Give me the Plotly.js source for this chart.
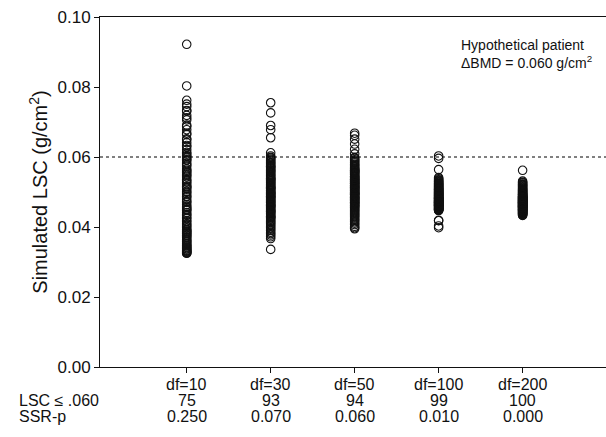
<!DOCTYPE html>
<html>
<head>
<meta charset="utf-8">
<script src="https://cdn.plot.ly/plotly-3.0.1.min.js"></script>
<style>html,body{margin:0;padding:0;background:#fff;}#chart{width:606px;height:437px;}</style>
</head>
<body>
<div id="chart"></div>
<script>
// Categories (x positions 1..5)
const categories = ["df=10", "df=30", "df=50", "df=100", "df=200"];
const lscRow = ["75", "93", "94", "99", "100"];
const ssrRow = ["0.250", "0.070", "0.060", "0.010", "0.000"];
const rowLabels = ["LSC \u2264 .060", "SSR-p"];
const thresholdLSC = 0.060;
const yTickVals = [0.00, 0.02, 0.04, 0.06, 0.08, 0.10];

// Simulated LSC values (g/cm2)
const lsc_df10 = [
  0.0922, 0.0803, 0.0762, 0.0751, 0.0744, 0.0733, 0.0731, 0.0719, 0.0712, 0.0706,
  0.0691, 0.0687, 0.0678, 0.0668, 0.0664, 0.0652, 0.0649, 0.0641, 0.0633, 0.0629,
  0.0621, 0.0613, 0.0609, 0.0604, 0.0601,
  0.0597, 0.0592, 0.0591, 0.0583, 0.0578, 0.0574, 0.0566, 0.0562, 0.0559, 0.0551,
  0.0547, 0.0543, 0.0536, 0.0532, 0.0528, 0.0523, 0.0517, 0.0515, 0.0508, 0.0502,
  0.0499, 0.0494, 0.0488, 0.0486, 0.0479, 0.0473, 0.0471, 0.0464, 0.0459, 0.0456,
  0.0449, 0.0447, 0.0441, 0.0436, 0.0433, 0.0427, 0.0424, 0.0418, 0.0415, 0.0409,
  0.0406, 0.0402, 0.0398, 0.0393, 0.0391, 0.0386, 0.0383, 0.0381, 0.0376, 0.0372,
  0.0369, 0.0365, 0.0362, 0.0359, 0.0357, 0.0353, 0.0351, 0.0347, 0.0346, 0.0343,
  0.0341, 0.0338, 0.0337, 0.0334, 0.0332, 0.0331, 0.0329, 0.0327, 0.0326, 0.0325,
  0.0377, 0.0452, 0.0512, 0.0555, 0.0388
];
const lsc_df30 = [
  0.0755, 0.0726, 0.0690, 0.0678, 0.0655, 0.0612, 0.0603,
  0.0599, 0.0597, 0.0594, 0.0591, 0.0588, 0.0584, 0.0582, 0.0579, 0.0575, 0.0572,
  0.0569, 0.0566, 0.0563, 0.0561, 0.0558, 0.0556, 0.0552, 0.0549, 0.0547, 0.0544,
  0.0541, 0.0538, 0.0536, 0.0533, 0.0531, 0.0528, 0.0526, 0.0523, 0.0521, 0.0518,
  0.0516, 0.0513, 0.0511, 0.0509, 0.0506, 0.0504, 0.0502, 0.0499, 0.0497, 0.0495,
  0.0493, 0.0491, 0.0488, 0.0486, 0.0484, 0.0482, 0.0479, 0.0477, 0.0475, 0.0473,
  0.0471, 0.0469, 0.0466, 0.0464, 0.0462, 0.0459, 0.0457, 0.0455, 0.0452, 0.0449,
  0.0447, 0.0445, 0.0442, 0.0439, 0.0437, 0.0434, 0.0431, 0.0428, 0.0426, 0.0423,
  0.0419, 0.0416, 0.0413, 0.0409, 0.0406, 0.0402, 0.0398, 0.0394, 0.0390, 0.0385,
  0.0381, 0.0377, 0.0372, 0.0367, 0.0336, 0.0538, 0.0487, 0.0461, 0.0512, 0.0444,
  0.0573, 0.0497, 0.0429
];
const lsc_df50 = [
  0.0668, 0.0662, 0.0651, 0.0637, 0.0622, 0.0609,
  0.0599, 0.0596, 0.0592, 0.0589, 0.0586, 0.0583, 0.0579, 0.0577, 0.0574, 0.0571,
  0.0568, 0.0566, 0.0563, 0.0561, 0.0558, 0.0556, 0.0553, 0.0551, 0.0549, 0.0546,
  0.0544, 0.0542, 0.0539, 0.0537, 0.0535, 0.0533, 0.0531, 0.0528, 0.0526, 0.0524,
  0.0522, 0.0519, 0.0517, 0.0515, 0.0513, 0.0511, 0.0509, 0.0507, 0.0504, 0.0502,
  0.0500, 0.0498, 0.0496, 0.0494, 0.0492, 0.0489, 0.0487, 0.0485, 0.0483, 0.0481,
  0.0478, 0.0476, 0.0474, 0.0471, 0.0469, 0.0467, 0.0465, 0.0462, 0.0459, 0.0457,
  0.0455, 0.0452, 0.0449, 0.0447, 0.0444, 0.0441, 0.0438, 0.0435, 0.0432, 0.0429,
  0.0426, 0.0422, 0.0419, 0.0415, 0.0411, 0.0407, 0.0402, 0.0398, 0.0395, 0.0543,
  0.0512, 0.0493, 0.0471, 0.0529, 0.0557, 0.0484, 0.0462, 0.0518, 0.0505, 0.0536,
  0.0497, 0.0479, 0.0562, 0.0524
];
const lsc_df100 = [
  0.0603,
  0.0596, 0.0564, 0.0541, 0.0538, 0.0535, 0.0533, 0.0531, 0.0529, 0.0527, 0.0525,
  0.0524, 0.0522, 0.0521, 0.0519, 0.0518, 0.0516, 0.0515, 0.0513, 0.0512, 0.0510,
  0.0509, 0.0508, 0.0506, 0.0505, 0.0504, 0.0502, 0.0501, 0.0500, 0.0498, 0.0497,
  0.0496, 0.0495, 0.0493, 0.0492, 0.0491, 0.0490, 0.0489, 0.0487, 0.0486, 0.0485,
  0.0484, 0.0483, 0.0482, 0.0481, 0.0480, 0.0479, 0.0478, 0.0477, 0.0476, 0.0475,
  0.0474, 0.0473, 0.0472, 0.0471, 0.0470, 0.0469, 0.0468, 0.0467, 0.0466, 0.0465,
  0.0464, 0.0463, 0.0462, 0.0461, 0.0460, 0.0459, 0.0458, 0.0457, 0.0456, 0.0455,
  0.0454, 0.0453, 0.0452, 0.0451, 0.0450, 0.0449, 0.0448, 0.0447, 0.0449, 0.0452,
  0.0461, 0.0466, 0.0473, 0.0419, 0.0418, 0.0398, 0.0403, 0.0494, 0.0483, 0.0471,
  0.0462, 0.0507, 0.0476, 0.0488, 0.0469, 0.0457, 0.0499, 0.0480, 0.0465
];
const lsc_df200 = [
  0.0562, 0.0531, 0.0528, 0.0526, 0.0523, 0.0521, 0.0519, 0.0517, 0.0515, 0.0513,
  0.0511, 0.0509, 0.0507, 0.0506, 0.0504, 0.0503, 0.0501, 0.0500, 0.0498, 0.0497,
  0.0496, 0.0494, 0.0493, 0.0492, 0.0490, 0.0489, 0.0488, 0.0487, 0.0486, 0.0485,
  0.0484, 0.0483, 0.0482, 0.0481, 0.0480, 0.0479, 0.0478, 0.0477, 0.0476, 0.0475,
  0.0474, 0.0473, 0.0472, 0.0471, 0.0470, 0.0469, 0.0468, 0.0467, 0.0466, 0.0465,
  0.0464, 0.0463, 0.0462, 0.0461, 0.0460, 0.0459, 0.0458, 0.0457, 0.0456, 0.0455,
  0.0454, 0.0453, 0.0452, 0.0451, 0.0450, 0.0449, 0.0448, 0.0447, 0.0446, 0.0445,
  0.0444, 0.0443, 0.0442, 0.0441, 0.0440, 0.0439, 0.0438, 0.0437, 0.0436, 0.0434,
  0.0433, 0.0476, 0.0469, 0.0481, 0.0458, 0.0463, 0.0487, 0.0472, 0.0451, 0.0479,
  0.0466, 0.0492, 0.0459, 0.0474, 0.0448, 0.0484, 0.0461, 0.0470, 0.0455, 0.0468
];
const seriesList = [lsc_df10, lsc_df30, lsc_df50, lsc_df100, lsc_df200];

const FONT = "Liberation Sans, Arial, sans-serif";
const INK = "#111111";

const traces = seriesList.map((vals, i) => ({
  type: "scatter",
  mode: "markers",
  x: vals.map(() => i + 1),
  y: vals,
  marker: {symbol: "circle-open", size: 8.5, color: INK, line: {width: 1.1, color: INK}},
  showlegend: false,
  hoverinfo: "y"
}));

const annotations = [];
categories.forEach((c, i) => {
  annotations.push({x: i + 1, xref: "x", y: 0, yref: "paper", yanchor: "middle", yshift: -17,
    text: c, showarrow: false, font: {family: FONT, size: 16, color: INK}});
  annotations.push({x: i + 1, xref: "x", y: 0, yref: "paper", yanchor: "middle", yshift: -33,
    text: lscRow[i], showarrow: false, font: {family: FONT, size: 16, color: INK}});
  annotations.push({x: i + 1, xref: "x", y: 0, yref: "paper", yanchor: "middle", yshift: -49,
    text: ssrRow[i], showarrow: false, font: {family: FONT, size: 16, color: INK}});
});
rowLabels.forEach((t, k) => {
  annotations.push({x: 0, xref: "paper", xanchor: "left", xshift: -83, y: 0, yref: "paper",
    yanchor: "middle", yshift: -33 - 16 * k, text: t, showarrow: false,
    font: {family: FONT, size: 16, color: INK}});
});
annotations.push({x: 0.843, xref: "paper", xanchor: "center", y: 0.894, yref: "paper", yanchor: "middle",
  align: "left", showarrow: false,
  text: "Hypothetical patient<br>\u0394BMD = 0.060 g/cm<sup>2</sup>",
  font: {family: FONT, size: 14, color: INK}});

const layout = {
  width: 606, height: 437,
  margin: {l: 100, r: 0, t: 17, b: 70},
  paper_bgcolor: "#fff", plot_bgcolor: "#fff",
  font: {family: FONT, color: INK},
  xaxis: {
    range: [-0.0325, 5.993], showgrid: false, zeroline: false,
    showline: true, linecolor: INK, linewidth: 1, mirror: true,
    ticks: "outside", ticklen: 5, tickcolor: INK,
    tickvals: [1, 2, 3, 4, 5], showticklabels: false
  },
  yaxis: {
    range: [0, 0.1], showgrid: false, zeroline: false,
    showline: true, linecolor: INK, linewidth: 1,
    ticks: "outside", ticklen: 5, tickcolor: INK,
    tickvals: yTickVals, tickformat: ".2f",
    tickfont: {family: FONT, size: 17, color: INK},
    title: {text: "Simulated LSC (g/cm<sup>2</sup>)", font: {family: FONT, size: 20, color: INK}, standoff: 4}
  },
  shapes: [{type: "line", xref: "paper", x0: 0, x1: 1, yref: "y", y0: thresholdLSC, y1: thresholdLSC,
    line: {color: "#000", width: 1, dash: "dot"}}],
  annotations: annotations
};

Plotly.newPlot("chart", traces, layout, {staticPlot: true, displayModeBar: false});
</script>
</body>
</html>
